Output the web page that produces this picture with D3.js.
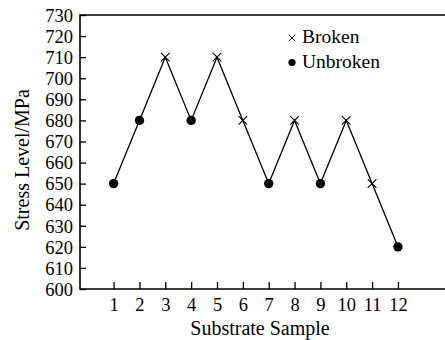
<!DOCTYPE html>
<html>
<head>
<meta charset="utf-8">
<script src="https://cdn.jsdelivr.net/npm/d3@7"></script>
<style>
  body { margin: 0; background: #fff; }
  svg text { font-family: "Liberation Serif", "Times New Roman", serif; fill: #000; }
</style>
</head>
<body>
<div id="chart"></div>
<script>
// data
const samples = [1, 2, 3, 4, 5, 6, 7, 8, 9, 10, 11, 12];
const stress = [650, 680, 710, 680, 710, 680, 650, 680, 650, 680, 650, 620];
const status = ["Unbroken", "Unbroken", "Broken", "Unbroken", "Broken", "Broken",
                "Unbroken", "Broken", "Unbroken", "Broken", "Broken", "Unbroken"];
const yTicks = d3.range(600, 731, 10);
const legendItems = ["Broken", "Unbroken"];

const width = 445, height = 340;
const margin = { top: 15, right: 0, bottom: 51, left: 80 };

const svg = d3.select("#chart").append("svg")
  .attr("width", width)
  .attr("height", height);

const x = d3.scaleLinear().domain([-0.3, 13.82]).range([margin.left, width - margin.right]);
const y = d3.scaleLinear().domain([600, 730]).range([height - margin.bottom, margin.top]);

// y axis (ticks pointing in)
const yAxis = svg.append("g")
  .attr("transform", `translate(${margin.left},0)`)
  .call(d3.axisRight(y).tickValues(yTicks).tickSize(6).tickSizeOuter(0).tickFormat(d3.format("d")));
yAxis.select(".domain").remove();
yAxis.selectAll("text")
  .attr("x", -7)
  .attr("dy", "0.34em")
  .style("text-anchor", "end")
  .style("font-size", "18.5px");

// x axis
const xAxis = svg.append("g")
  .attr("transform", `translate(0,${height - margin.bottom})`)
  .call(d3.axisTop(x).tickValues(samples).tickSize(7).tickSizeOuter(0));
xAxis.select(".domain").remove();
xAxis.selectAll("text")
  .attr("y", 22)
  .attr("dy", 0)
  .style("font-size", "18.5px");

svg.selectAll(".tick line").attr("stroke", "#000").attr("stroke-width", 1.3);

// frame: left, top, bottom
const x0 = x.range()[0], x1 = x.range()[1], yb = y.range()[0], yt = y.range()[1];
svg.append("path")
  .attr("d", `M${x1},${yt}H${x0}V${yb}H${x1}`)
  .attr("fill", "none")
  .attr("stroke", "#000")
  .attr("stroke-width", 1.6);

// line
const line = d3.line()
  .x((d, i) => x(samples[i]))
  .y(d => y(d));

svg.append("path")
  .datum(stress)
  .attr("d", line)
  .attr("fill", "none")
  .attr("stroke", "#000")
  .attr("stroke-width", 1.3);

const pts = samples.map((s, i) => ({ s: s, v: stress[i], st: status[i] }));

svg.selectAll(".dot")
  .data(pts.filter(d => d.st === "Unbroken"))
  .enter().append("circle")
  .attr("class", "dot")
  .attr("cx", d => x(d.s))
  .attr("cy", d => y(d.v))
  .attr("r", 4.7)
  .attr("fill", "#000");

// plain x mark
const crossPath = h => `M${-h},${-h}L${h},${h}M${-h},${h}L${h},${-h}`;

svg.selectAll(".cross")
  .data(pts.filter(d => d.st === "Broken"))
  .enter().append("path")
  .attr("class", "cross")
  .attr("transform", d => `translate(${x(d.s)},${y(d.v)})`)
  .attr("d", crossPath(4.3))
  .attr("fill", "none")
  .attr("stroke", "#000")
  .attr("stroke-width", 1.1);

// legend
const legend = svg.append("g").attr("transform", "translate(292,38)");
legendItems.forEach((name, i) => {
  const g = legend.append("g").attr("transform", `translate(0,${i * 24.5})`);
  if (name === "Broken") {
    g.append("path").attr("d", crossPath(3.3)).attr("stroke", "#000").attr("stroke-width", 0.9);
  } else {
    g.append("circle").attr("r", 3.6).attr("fill", "#000");
  }
  g.append("text")
    .attr("x", 10)
    .attr("y", 5)
    .style("font-size", "19.5px")
    .text(name);
});

// axis titles
svg.append("text")
  .attr("x", 260)
  .attr("y", 335)
  .attr("text-anchor", "middle")
  .style("font-size", "20px")
  .text("Substrate Sample");

svg.append("text")
  .attr("transform", "translate(29,160) rotate(-90)")
  .attr("text-anchor", "middle")
  .style("font-size", "20px")
  .text("Stress Level/MPa");
</script>
</body>
</html>
